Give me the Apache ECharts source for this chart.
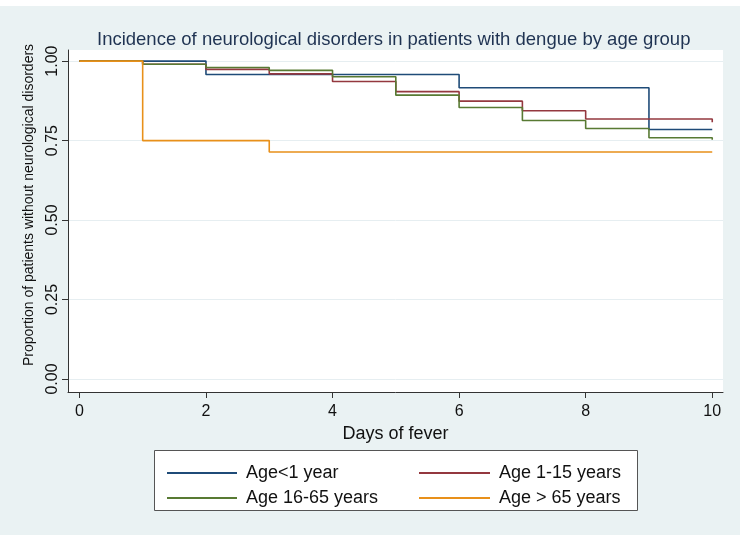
<!DOCTYPE html>
<html>
<head>
<meta charset="utf-8">
<script src="https://cdn.jsdelivr.net/npm/echarts@6/dist/echarts.min.js"></script>
<style>html,body{margin:0;padding:0;background:#fff}#c{width:750px;height:549px}</style>
</head>
<body>
<div id="c"></div>
<script>
const days = [0, 1, 2, 3, 4, 5, 6, 7, 8, 9, 10, 10];
const seriesNames = ['Age<1 year', 'Age 1-15 years', 'Age 16-65 years', 'Age > 65 years'];
const ageUnder1 = [1, 1, 0.958, 0.958, 0.958, 0.958, 0.916, 0.916, 0.916, 0.785, 0.785, 0.785];
const age1to15 = [1, 0.99, 0.974, 0.960, 0.936, 0.904, 0.874, 0.844, 0.818, 0.818, 0.818, 0.808];
const age16to65 = [1, 0.99, 0.980, 0.971, 0.951, 0.893, 0.854, 0.813, 0.788, 0.759, 0.759, 0.753];
const ageOver65 = [1, 0.75, 0.75, 0.714, 0.714, 0.714, 0.714, 0.714, 0.714, 0.714, 0.714, 0.714];
const xTicks = [0, 2, 4, 6, 8, 10];
const yTicks = [0, 0.25, 0.5, 0.75, 1];
const colors = ['#1f4b78', '#94383f', '#587a33', '#e8901a'];

const valueSets = [ageUnder1, age1to15, age16to65, ageOver65];
const font = 'Liberation Sans, Arial, sans-serif';

const legendCommon = {
  orient: 'vertical', top: 458, icon: 'rect',
  itemHeight: 2, itemGap: 5,
  textStyle: {fontFamily: font, fontSize: 18, color: '#111', lineHeight: 20, padding: [0, 0, 0, 4]}
};

const chart = echarts.init(document.getElementById('c'), null, {renderer: 'canvas'});
chart.setOption({
  backgroundColor: '#ffffff',
  animation: false,
  graphic: [
    {type: 'rect', z: -10, silent: true, shape: {x: 0, y: 6, width: 740, height: 529}, style: {fill: '#eaf2f3'}},
    {type: 'rect', z: -5, silent: true, shape: {x: 154.5, y: 450.5, width: 483, height: 60}, style: {fill: '#ffffff', stroke: '#555555', lineWidth: 1}}
  ],
  title: {
    text: 'Incidence of neurological disorders in patients with dengue by age group',
    left: 92, top: 25,
    textStyle: {fontFamily: font, fontSize: 18.5, fontWeight: 'normal', color: '#1f3352'}
  },
  grid: {left: 68, right: 27, top: 50, bottom: 157, show: true, backgroundColor: '#ffffff', borderWidth: 0},
  legend: [
    Object.assign({data: [seriesNames[0], seriesNames[2]], left: 162, itemWidth: 70}, legendCommon),
    Object.assign({data: [seriesNames[1], seriesNames[3]], left: 414, itemWidth: 71}, legendCommon)
  ],
  xAxis: {
    type: 'value', min: -0.18, max: 10.17,
    name: 'Days of fever', nameLocation: 'middle', nameGap: 29,
    nameTextStyle: {fontFamily: font, fontSize: 18, color: '#111'},
    axisLine: {show: true, onZero: false, lineStyle: {color: '#333', width: 1}},
    axisTick: {show: true, length: 6, customValues: xTicks, lineStyle: {color: '#333'}},
    axisLabel: {customValues: xTicks, fontFamily: font, fontSize: 16, color: '#111', margin: 12},
    splitLine: {show: false}
  },
  yAxis: {
    type: 'value', min: -0.041, max: 1.035,
    name: 'Proportion of patients without neurological disorders', nameLocation: 'middle', nameGap: 32,
    nameTextStyle: {fontFamily: font, fontSize: 14, color: '#111', padding: [0, 0, 0, 32]},
    axisLine: {show: true, onZero: false, lineStyle: {color: '#333', width: 1}},
    axisTick: {show: true, length: 6, customValues: yTicks, lineStyle: {color: '#333'}},
    axisLabel: {customValues: yTicks, rotate: 90, fontFamily: font, fontSize: 16, color: '#111', margin: 7,
      formatter: v => v.toFixed(2)},
    splitLine: {show: true, lineStyle: {color: '#e6eef1', width: 1}}
  },
  series: valueSets.map((vals, i) => ({
    name: seriesNames[i],
    type: 'line',
    step: 'end',
    symbol: 'none',
    color: colors[i],
    lineStyle: {width: 1.6, color: colors[i]},
    data: days.map((d, j) => [d, vals[j]])
  }))
});
</script>
</body>
</html>
